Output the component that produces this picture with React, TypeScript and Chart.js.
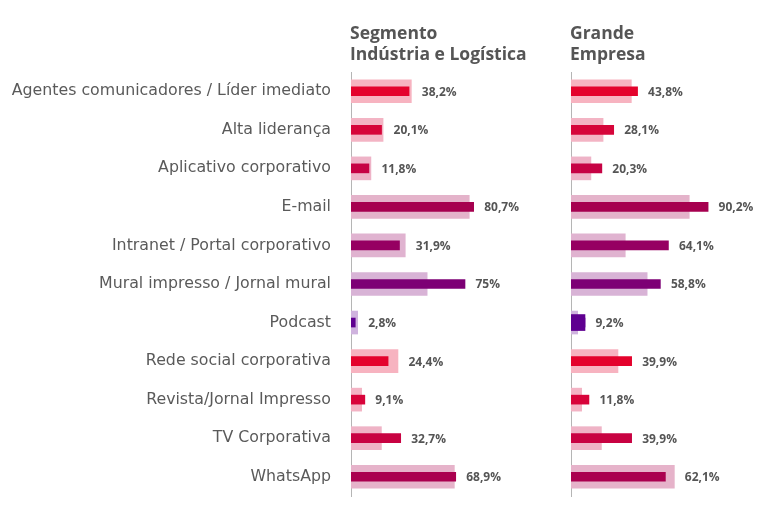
import React, { useEffect, useRef } from 'react';
import { Chart, registerables } from 'chart.js';

Chart.register(...registerables);

const categories = [
  'Agentes comunicadores / Líder imediato',
  'Alta liderança',
  'Aplicativo corporativo',
  'E-mail',
  'Intranet / Portal corporativo',
  'Mural impresso / Jornal mural',
  'Podcast',
  'Rede social corporativa',
  'Revista/Jornal Impresso',
  'TV Corporativa',
  'WhatsApp',
];
const segmentoValues = [38.2, 20.1, 11.8, 80.7, 31.9, 75, 2.8, 24.4, 9.1, 32.7, 68.9];
const grandeEmpresaValues = [43.8, 28.1, 20.3, 90.2, 64.1, 58.8, 9.2, 39.9, 11.8, 39.9, 62.1];
const referenceValues = [39.7, 21.1, 13.1, 77.8, 35.7, 50.1, 4.4, 30.9, 7, 20, 68];
const barColors = [
  '#e4022c', '#d6053a', '#c60244', '#a6004f', '#960062', '#7d0075',
  '#5f0090', '#e4022c', '#d8033a', '#c80242', '#aa004f',
];
const segmentoTitle = ['Segmento', 'Indústria e Logística'];
const grandeTitle = ['Grande', 'Empresa'];
const highlightedCategory = 'Podcast';

const FONT = "'Open Sans', 'Noto Sans', sans-serif";
const LABEL_FONT = "'DejaVu Sans', 'Open Sans', sans-serif";
const TEXT = '#555555';

function lighten(hex: string, alpha: number) {
  const r = parseInt(hex.slice(1, 3), 16);
  const g = parseInt(hex.slice(3, 5), 16);
  const b = parseInt(hex.slice(5, 7), 16);
  const mix = (c: number) => Math.round(255 * (1 - alpha) + c * alpha);
  return `rgb(${mix(r)}, ${mix(g)}, ${mix(b)})`;
}

function fmt(v: number) {
  return String(v).replace('.', ',') + '%';
}

function makeChart(
  canvas: HTMLCanvasElement,
  values: number[],
  title: string[],
  showLabels: boolean,
  axisWidth: number,
  rightPad: number,
  highlight: boolean
) {
  const datasets: any[] = [
    {
      data: referenceValues,
      backgroundColor: barColors.map((c) => lighten(c, 0.3)),
      barThickness: 23,
      grouped: false,
      order: 3,
    },
    {
      data: values,
      backgroundColor: barColors,
      barThickness: 9,
      grouped: false,
      order: 2,
    },
  ];
  if (highlight) {
    datasets.push({
      data: values.map((v, i) => (categories[i] === highlightedCategory ? v : null)),
      backgroundColor: barColors,
      barThickness: 16,
      grouped: false,
      order: 1,
    });
  }

  const labelsPlugin = {
    id: 'valueLabels',
    afterDatasetsDraw(chart: any) {
      const ctx = chart.ctx;
      const light = chart.getDatasetMeta(0).data;
      const dark = chart.getDatasetMeta(1).data;
      ctx.save();
      ctx.font = `bold 12px ${FONT}`;
      ctx.fillStyle = TEXT;
      ctx.textAlign = 'left';
      ctx.textBaseline = 'middle';
      dark.forEach((el: any, i: number) => {
        const x = Math.max(el.x, light[i].x) + 10.5;
        ctx.fillText(fmt(values[i]), x, el.y + 1);
      });
      ctx.restore();
    },
    afterDraw(chart: any) {
      const ctx = chart.ctx;
      ctx.save();
      ctx.font = `bold 17.5px ${FONT}`;
      ctx.fillStyle = TEXT;
      ctx.textAlign = 'left';
      ctx.textBaseline = 'alphabetic';
      title.forEach((line, i) => {
        ctx.fillText(line, chart.chartArea.left - 1, 39 + i * 21);
      });
      ctx.restore();
    },
  };

  return new Chart(canvas, {
    type: 'bar',
    data: { labels: categories, datasets },
    options: {
      indexAxis: 'y',
      responsive: false,
      animation: false,
      layout: { padding: { top: 72, bottom: 32, left: 0, right: rightPad } },
      plugins: { legend: { display: false }, tooltip: { enabled: false }, title: { display: false } },
      scales: {
        x: { display: false, min: 0, max: 100 },
        y: {
          afterFit: (scale: any) => {
            scale.width = axisWidth;
          },
          grid: { display: false, drawTicks: false },
          border: { display: true, color: '#b5b5b5', width: 1 },
          ticks: {
            display: showLabels,
            padding: 20,
            color: '#5a5a5a',
            font: { family: LABEL_FONT, size: 15.8 },
          },
        },
      },
    },
    plugins: [labelsPlugin],
  });
}

export default function App() {
  const leftRef = useRef<HTMLCanvasElement>(null);
  const rightRef = useRef<HTMLCanvasElement>(null);

  useEffect(() => {
    const a = makeChart(leftRef.current!, segmentoValues, segmentoTitle, true, 351, 37, false);
    const b = makeChart(rightRef.current!, grandeEmpresaValues, grandeTitle, false, 31, 45, true);
    return () => {
      a.destroy();
      b.destroy();
    };
  }, []);

  return (
    <div style={{ position: 'fixed', left: 0, top: 0, width: 768, height: 528, background: '#fff' }}>
      <canvas ref={leftRef} width={540} height={528} style={{ position: 'absolute', left: 0, top: 0 }} />
      <canvas ref={rightRef} width={228} height={528} style={{ position: 'absolute', left: 540, top: 0 }} />
    </div>
  );
}
